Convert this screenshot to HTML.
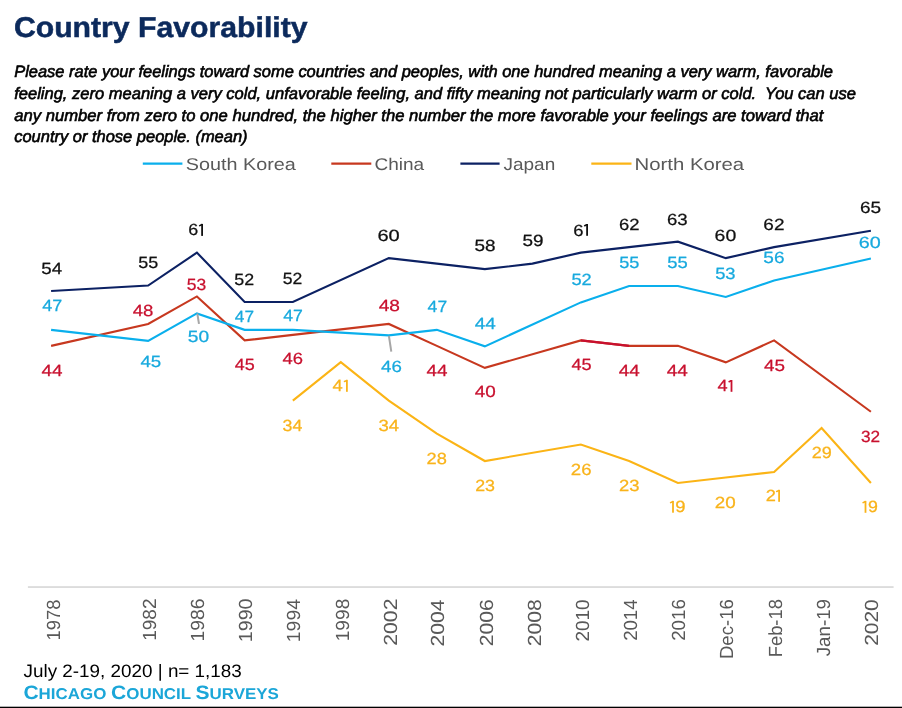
<!DOCTYPE html>
<html><head><meta charset="utf-8"><title>Country Favorability</title><style>
html,body{margin:0;padding:0;background:#fff;}
body{width:902px;height:708px;position:relative;overflow:hidden;font-family:"Liberation Sans",sans-serif;}
text{font-family:"Liberation Sans",sans-serif;text-rendering:geometricPrecision;}
.title{font-weight:bold;font-size:28.6px;fill:#0c2a5c;stroke:#0c2a5c;stroke-width:0.5px;}
.sub{font-style:italic;font-weight:normal;font-size:16.5px;fill:#000;stroke:#000;stroke-width:0.6px;}
.leg{font-size:17px;fill:#595959;}
.ax{font-size:19px;}
.dl{font-size:16.2px;stroke-width:0.25px;}
.foot{font-size:18px;fill:#000;}
.brand{font-weight:bold;font-size:15.6px;fill:#1ba6d8;}
.bc{font-size:19.4px;}
</style></head>
<body>
<svg width="902" height="708" viewBox="0 0 902 708" style="position:absolute;left:0;top:0;will-change:transform">
<text x="13.9" y="36.6" class="title" textLength="293.7" lengthAdjust="spacingAndGlyphs">Country Favorability</text>
<text x="14.2" y="77.0" class="sub" textLength="818.8" lengthAdjust="spacingAndGlyphs" xml:space="preserve">Please rate your feelings toward some countries and peoples, with one hundred meaning a very warm, favorable</text>
<text x="14.2" y="98.7" class="sub" textLength="841.8" lengthAdjust="spacingAndGlyphs" xml:space="preserve">feeling, zero meaning a very cold, unfavorable feeling, and fifty meaning not particularly warm or cold.  You can use</text>
<text x="14.2" y="120.6" class="sub" textLength="809.2" lengthAdjust="spacingAndGlyphs" xml:space="preserve">any number from zero to one hundred, the higher the number the more favorable your feelings are toward that</text>
<text x="14.2" y="142.4" class="sub" textLength="233.4" lengthAdjust="spacingAndGlyphs" xml:space="preserve">country or those people. (mean)</text>
<line x1="142.8" y1="163.6" x2="182.4" y2="163.6" stroke="#0aafec" stroke-width="2.1"/>
<text x="185.8" y="170.4" class="leg" textLength="110.0" lengthAdjust="spacingAndGlyphs">South Korea</text>
<line x1="331.3" y1="163.6" x2="371.3" y2="163.6" stroke="#c7381f" stroke-width="2.1"/>
<text x="374.5" y="170.4" class="leg" textLength="49.7" lengthAdjust="spacingAndGlyphs">China</text>
<line x1="460.4" y1="163.6" x2="499.6" y2="163.6" stroke="#0c2163" stroke-width="2.1"/>
<text x="503.5" y="170.4" class="leg" textLength="51.7" lengthAdjust="spacingAndGlyphs">Japan</text>
<line x1="591.3" y1="163.6" x2="631.5" y2="163.6" stroke="#fbb416" stroke-width="2.1"/>
<text x="634.5" y="170.4" class="leg" textLength="109.7" lengthAdjust="spacingAndGlyphs">North Korea</text>
<rect x="27.9" y="586.2" width="865.7" height="1.7" fill="#d9d9d9"/>
<text transform="translate(59.59,599.56) rotate(-90)" class="ax" fill="#595959" text-anchor="end" textLength="40.88" lengthAdjust="spacingAndGlyphs">1978</text>
<text transform="translate(156.19,598.44) rotate(-90)" class="ax" fill="#595959" text-anchor="end" textLength="42.36" lengthAdjust="spacingAndGlyphs">1982</text>
<text transform="translate(204.29,598.60) rotate(-90)" class="ax" fill="#595959" text-anchor="end" textLength="43.03" lengthAdjust="spacingAndGlyphs">1986</text>
<text transform="translate(251.96,598.50) rotate(-90)" class="ax" fill="#595959" text-anchor="end" textLength="43.68" lengthAdjust="spacingAndGlyphs">1990</text>
<text transform="translate(299.87,599.01) rotate(-90)" class="ax" fill="#595959" text-anchor="end" textLength="43.16" lengthAdjust="spacingAndGlyphs">1994</text>
<text transform="translate(348.59,598.71) rotate(-90)" class="ax" fill="#595959" text-anchor="end" textLength="42.62" lengthAdjust="spacingAndGlyphs">1998</text>
<text transform="translate(397.20,598.52) rotate(-90)" class="ax" fill="#595959" text-anchor="end" textLength="47.26" lengthAdjust="spacingAndGlyphs">2002</text>
<text transform="translate(444.30,599.47) rotate(-90)" class="ax" fill="#595959" text-anchor="end" textLength="46.96" lengthAdjust="spacingAndGlyphs">2004</text>
<text transform="translate(492.60,599.23) rotate(-90)" class="ax" fill="#595959" text-anchor="end" textLength="47.00" lengthAdjust="spacingAndGlyphs">2006</text>
<text transform="translate(540.50,599.21) rotate(-90)" class="ax" fill="#595959" text-anchor="end" textLength="47.03" lengthAdjust="spacingAndGlyphs">2008</text>
<text transform="translate(588.70,599.34) rotate(-90)" class="ax" fill="#595959" text-anchor="end" textLength="42.22" lengthAdjust="spacingAndGlyphs">2010</text>
<text transform="translate(636.90,599.46) rotate(-90)" class="ax" fill="#595959" text-anchor="end" textLength="41.41" lengthAdjust="spacingAndGlyphs">2014</text>
<text transform="translate(685.00,599.17) rotate(-90)" class="ax" fill="#595959" text-anchor="end" textLength="41.70" lengthAdjust="spacingAndGlyphs">2016</text>
<text transform="translate(733.14,599.09) rotate(-90)" class="ax" fill="#595959" text-anchor="end" textLength="60.00" lengthAdjust="spacingAndGlyphs">Dec-16</text>
<text transform="translate(781.83,599.06) rotate(-90)" class="ax" fill="#595959" text-anchor="end" textLength="58.29" lengthAdjust="spacingAndGlyphs">Feb-18</text>
<text transform="translate(829.78,599.02) rotate(-90)" class="ax" fill="#595959" text-anchor="end" textLength="57.32" lengthAdjust="spacingAndGlyphs">Jan-19</text>
<text transform="translate(877.79,599.21) rotate(-90)" class="ax" fill="#595959" text-anchor="end" textLength="46.66" lengthAdjust="spacingAndGlyphs">2020</text>
<polyline points="292.85,400.64 340.80,362.20 388.80,400.64 436.85,433.58 484.85,461.03 580.85,444.56 629.10,461.03 677.90,483.00 725.80,477.51 774.10,472.02 821.60,428.09 870.90,483.00" fill="none" stroke="#fbb416" stroke-width="2.1" stroke-linejoin="miter"/>
<polyline points="51.10,345.88 148.15,323.92 196.90,296.46 244.65,340.39 292.85,334.90 388.80,323.92 436.85,345.88 484.85,367.84 580.85,340.39 629.10,345.88 677.90,345.88 725.80,362.35 774.10,340.39 870.90,411.77" fill="none" stroke="#c7381f" stroke-width="2.1" stroke-linejoin="miter"/>
<polyline points="580.85,340.39 629.10,345.88" fill="none" stroke="#c8102e" stroke-width="2.1"/>
<polyline points="51.10,329.86 148.15,340.84 196.90,313.39 244.65,329.86 292.85,329.86 388.80,335.35 436.85,329.86 484.85,346.33 580.85,302.40 629.10,285.93 677.90,285.93 725.80,296.91 774.10,280.44 870.90,258.48" fill="none" stroke="#0aafec" stroke-width="2.1" stroke-linejoin="miter"/>
<polyline points="51.10,291.07 148.15,285.58 196.90,252.64 244.65,302.05 292.85,302.05 388.80,258.13 484.85,269.11 532.40,263.62 580.85,252.64 629.10,247.15 677.90,241.66 725.80,258.13 774.10,247.15 870.90,230.67" fill="none" stroke="#0c2163" stroke-width="2.1" stroke-linejoin="miter"/>
<line x1="197.3" y1="313.5" x2="199.0" y2="323.8" stroke="#a6a6a6" stroke-width="2"/>
<line x1="388.9" y1="335.8" x2="391.3" y2="351.6" stroke="#a6a6a6" stroke-width="2"/>
<text x="51.70" y="273.91" fill="#111111" stroke="#111111" text-anchor="middle" class="dl" textLength="20.79" lengthAdjust="spacingAndGlyphs">54</text>
<text x="148.17" y="267.97" fill="#111111" stroke="#111111" text-anchor="middle" class="dl" textLength="19.93" lengthAdjust="spacingAndGlyphs">55</text>
<text x="244.18" y="284.63" fill="#111111" stroke="#111111" text-anchor="middle" class="dl" textLength="19.83" lengthAdjust="spacingAndGlyphs">52</text>
<text x="292.62" y="284.48" fill="#111111" stroke="#111111" text-anchor="middle" class="dl" textLength="19.55" lengthAdjust="spacingAndGlyphs">52</text>
<text x="388.59" y="240.89" fill="#111111" stroke="#111111" text-anchor="middle" class="dl" textLength="22.36" lengthAdjust="spacingAndGlyphs">60</text>
<text x="484.91" y="251.29" fill="#111111" stroke="#111111" text-anchor="middle" class="dl" textLength="21.02" lengthAdjust="spacingAndGlyphs">58</text>
<text x="533.14" y="246.04" fill="#111111" stroke="#111111" text-anchor="middle" class="dl" textLength="21.04" lengthAdjust="spacingAndGlyphs">59</text>
<text x="629.20" y="229.96" fill="#111111" stroke="#111111" text-anchor="middle" class="dl" textLength="20.56" lengthAdjust="spacingAndGlyphs">62</text>
<text x="677.26" y="225.09" fill="#111111" stroke="#111111" text-anchor="middle" class="dl" textLength="20.70" lengthAdjust="spacingAndGlyphs">63</text>
<text x="725.40" y="240.70" fill="#111111" stroke="#111111" text-anchor="middle" class="dl" textLength="21.64" lengthAdjust="spacingAndGlyphs">60</text>
<text x="773.95" y="229.93" fill="#111111" stroke="#111111" text-anchor="middle" class="dl" textLength="21.13" lengthAdjust="spacingAndGlyphs">62</text>
<text x="870.49" y="213.27" fill="#111111" stroke="#111111" text-anchor="middle" class="dl" textLength="21.14" lengthAdjust="spacingAndGlyphs">65</text>
<text x="52.35" y="311.17" fill="#17a9de" stroke="#17a9de" text-anchor="middle" class="dl" textLength="20.04" lengthAdjust="spacingAndGlyphs">47</text>
<text x="150.80" y="367.29" fill="#17a9de" stroke="#17a9de" text-anchor="middle" class="dl" textLength="20.75" lengthAdjust="spacingAndGlyphs">45</text>
<text x="198.41" y="342.10" fill="#17a9de" stroke="#17a9de" text-anchor="middle" class="dl" textLength="21.30" lengthAdjust="spacingAndGlyphs">50</text>
<text x="244.40" y="322.30" fill="#17a9de" stroke="#17a9de" text-anchor="middle" class="dl" textLength="19.22" lengthAdjust="spacingAndGlyphs">47</text>
<text x="293.02" y="320.96" fill="#17a9de" stroke="#17a9de" text-anchor="middle" class="dl" textLength="19.67" lengthAdjust="spacingAndGlyphs">47</text>
<text x="391.53" y="371.59" fill="#17a9de" stroke="#17a9de" text-anchor="middle" class="dl" textLength="20.80" lengthAdjust="spacingAndGlyphs">46</text>
<text x="437.39" y="311.62" fill="#17a9de" stroke="#17a9de" text-anchor="middle" class="dl" textLength="19.55" lengthAdjust="spacingAndGlyphs">47</text>
<text x="485.32" y="328.75" fill="#17a9de" stroke="#17a9de" text-anchor="middle" class="dl" textLength="21.11" lengthAdjust="spacingAndGlyphs">44</text>
<text x="581.55" y="284.85" fill="#17a9de" stroke="#17a9de" text-anchor="middle" class="dl" textLength="20.29" lengthAdjust="spacingAndGlyphs">52</text>
<text x="629.27" y="268.46" fill="#17a9de" stroke="#17a9de" text-anchor="middle" class="dl" textLength="20.14" lengthAdjust="spacingAndGlyphs">55</text>
<text x="677.40" y="268.29" fill="#17a9de" stroke="#17a9de" text-anchor="middle" class="dl" textLength="20.45" lengthAdjust="spacingAndGlyphs">55</text>
<text x="725.37" y="278.63" fill="#17a9de" stroke="#17a9de" text-anchor="middle" class="dl" textLength="20.37" lengthAdjust="spacingAndGlyphs">53</text>
<text x="773.95" y="262.91" fill="#17a9de" stroke="#17a9de" text-anchor="middle" class="dl" textLength="21.17" lengthAdjust="spacingAndGlyphs">56</text>
<text x="869.85" y="247.63" fill="#17a9de" stroke="#17a9de" text-anchor="middle" class="dl" textLength="21.99" lengthAdjust="spacingAndGlyphs">60</text>
<text x="52.02" y="375.93" fill="#c8102e" stroke="#c8102e" text-anchor="middle" class="dl" textLength="21.04" lengthAdjust="spacingAndGlyphs">44</text>
<text x="142.96" y="315.58" fill="#c8102e" stroke="#c8102e" text-anchor="middle" class="dl" textLength="20.63" lengthAdjust="spacingAndGlyphs">48</text>
<text x="196.44" y="289.88" fill="#c8102e" stroke="#c8102e" text-anchor="middle" class="dl" textLength="19.42" lengthAdjust="spacingAndGlyphs">53</text>
<text x="244.75" y="370.04" fill="#c8102e" stroke="#c8102e" text-anchor="middle" class="dl" textLength="19.93" lengthAdjust="spacingAndGlyphs">45</text>
<text x="292.87" y="364.45" fill="#c8102e" stroke="#c8102e" text-anchor="middle" class="dl" textLength="20.51" lengthAdjust="spacingAndGlyphs">46</text>
<text x="389.31" y="310.88" fill="#c8102e" stroke="#c8102e" text-anchor="middle" class="dl" textLength="21.29" lengthAdjust="spacingAndGlyphs">48</text>
<text x="437.08" y="375.54" fill="#c8102e" stroke="#c8102e" text-anchor="middle" class="dl" textLength="21.03" lengthAdjust="spacingAndGlyphs">44</text>
<text x="485.22" y="397.30" fill="#c8102e" stroke="#c8102e" text-anchor="middle" class="dl" textLength="20.99" lengthAdjust="spacingAndGlyphs">40</text>
<text x="581.51" y="370.26" fill="#c8102e" stroke="#c8102e" text-anchor="middle" class="dl" textLength="20.13" lengthAdjust="spacingAndGlyphs">45</text>
<text x="629.31" y="376.05" fill="#c8102e" stroke="#c8102e" text-anchor="middle" class="dl" textLength="21.05" lengthAdjust="spacingAndGlyphs">44</text>
<text x="677.32" y="376.12" fill="#c8102e" stroke="#c8102e" text-anchor="middle" class="dl" textLength="21.17" lengthAdjust="spacingAndGlyphs">44</text>
<text x="774.44" y="370.62" fill="#c8102e" stroke="#c8102e" text-anchor="middle" class="dl" textLength="20.99" lengthAdjust="spacingAndGlyphs">45</text>
<text x="870.46" y="441.58" fill="#c8102e" stroke="#c8102e" text-anchor="middle" class="dl" textLength="19.17" lengthAdjust="spacingAndGlyphs">32</text>
<text x="292.51" y="430.75" fill="#f9b31a" stroke="#f9b31a" text-anchor="middle" class="dl" textLength="19.76" lengthAdjust="spacingAndGlyphs">34</text>
<text x="388.78" y="430.78" fill="#f9b31a" stroke="#f9b31a" text-anchor="middle" class="dl" textLength="20.62" lengthAdjust="spacingAndGlyphs">34</text>
<text x="436.74" y="463.97" fill="#f9b31a" stroke="#f9b31a" text-anchor="middle" class="dl" textLength="20.32" lengthAdjust="spacingAndGlyphs">28</text>
<text x="485.07" y="491.39" fill="#f9b31a" stroke="#f9b31a" text-anchor="middle" class="dl" textLength="19.83" lengthAdjust="spacingAndGlyphs">23</text>
<text x="581.20" y="474.61" fill="#f9b31a" stroke="#f9b31a" text-anchor="middle" class="dl" textLength="20.75" lengthAdjust="spacingAndGlyphs">26</text>
<text x="629.35" y="491.23" fill="#f9b31a" stroke="#f9b31a" text-anchor="middle" class="dl" textLength="20.49" lengthAdjust="spacingAndGlyphs">23</text>
<text x="725.17" y="507.96" fill="#f9b31a" stroke="#f9b31a" text-anchor="middle" class="dl" textLength="20.94" lengthAdjust="spacingAndGlyphs">20</text>
<text x="821.71" y="457.99" fill="#f9b31a" stroke="#f9b31a" text-anchor="middle" class="dl" textLength="20.05" lengthAdjust="spacingAndGlyphs">29</text>
<text x="193.25" y="235.20" fill="#111111" stroke="#111111" text-anchor="middle" class="dl" textLength="10.01" lengthAdjust="spacingAndGlyphs">6</text>
<text x="578.42" y="235.60" fill="#111111" stroke="#111111" text-anchor="middle" class="dl" textLength="10.30" lengthAdjust="spacingAndGlyphs">6</text>
<text x="722.62" y="391.16" fill="#c8102e" stroke="#c8102e" text-anchor="middle" class="dl" textLength="10.13" lengthAdjust="spacingAndGlyphs">4</text>
<text x="337.73" y="391.16" fill="#f9b31a" stroke="#f9b31a" text-anchor="middle" class="dl" textLength="10.26" lengthAdjust="spacingAndGlyphs">4</text>
<text x="680.45" y="512.13" fill="#f9b31a" stroke="#f9b31a" text-anchor="middle" class="dl" textLength="10.30" lengthAdjust="spacingAndGlyphs">9</text>
<text x="770.88" y="501.16" fill="#f9b31a" stroke="#f9b31a" text-anchor="middle" class="dl" textLength="10.16" lengthAdjust="spacingAndGlyphs">2</text>
<text x="873.05" y="512.48" fill="#f9b31a" stroke="#f9b31a" text-anchor="middle" class="dl" textLength="9.91" lengthAdjust="spacingAndGlyphs">9</text>
<rect x="201.20" y="223.90" width="1.8" height="12.00" fill="#111111"/>
<line x1="201.60" y1="224.70" x2="199.70" y2="225.60" stroke="#111111" stroke-width="1.6" stroke-linecap="round"/>
<rect x="586.20" y="224.00" width="1.8" height="11.80" fill="#111111"/>
<line x1="586.60" y1="224.80" x2="584.70" y2="225.70" stroke="#111111" stroke-width="1.6" stroke-linecap="round"/>
<rect x="730.60" y="380.00" width="1.8" height="11.80" fill="#c8102e"/>
<line x1="731.00" y1="380.80" x2="729.10" y2="381.70" stroke="#c8102e" stroke-width="1.6" stroke-linecap="round"/>
<rect x="346.00" y="379.80" width="1.8" height="12.00" fill="#f9b31a"/>
<line x1="346.40" y1="380.60" x2="344.50" y2="381.50" stroke="#f9b31a" stroke-width="1.6" stroke-linecap="round"/>
<rect x="672.10" y="500.90" width="1.8" height="11.80" fill="#f9b31a"/>
<line x1="672.50" y1="501.70" x2="670.60" y2="502.60" stroke="#f9b31a" stroke-width="1.6" stroke-linecap="round"/>
<rect x="778.20" y="489.80" width="1.8" height="12.00" fill="#f9b31a"/>
<line x1="778.60" y1="490.60" x2="776.70" y2="491.50" stroke="#f9b31a" stroke-width="1.6" stroke-linecap="round"/>
<rect x="864.60" y="500.90" width="1.8" height="11.90" fill="#f9b31a"/>
<line x1="865.00" y1="501.70" x2="863.10" y2="502.60" stroke="#f9b31a" stroke-width="1.6" stroke-linecap="round"/>
<text x="23.6" y="676.7" class="foot" textLength="218.2" lengthAdjust="spacingAndGlyphs">July 2-19, 2020 | n= 1,183</text>
<text x="23.4" y="698.6" class="brand" textLength="255.5" lengthAdjust="spacingAndGlyphs"><tspan class="bc">C</tspan>HICAGO <tspan class="bc">C</tspan>OUNCIL <tspan class="bc">S</tspan>URVEYS</text>
<rect x="0" y="706.7" width="902" height="1.3" fill="#000"/>
</svg>
</body></html>
